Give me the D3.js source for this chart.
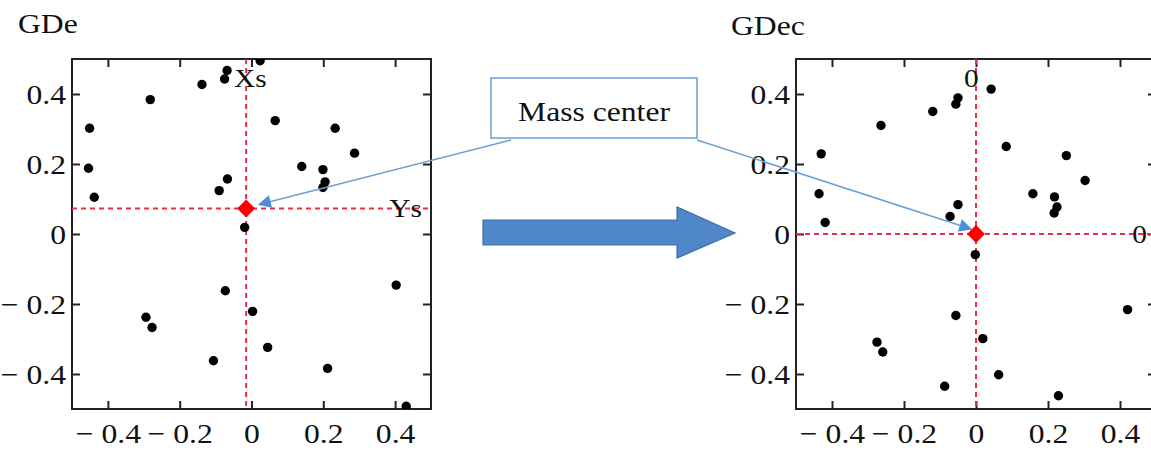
<!DOCTYPE html>
<html>
<head>
<meta charset="utf-8">
<script src="https://cdn.jsdelivr.net/npm/d3@7/dist/d3.min.js"></script>
<style>
  html, body { margin: 0; padding: 0; background: #fff; }
  svg { display: block; }
  text { font-family: "Liberation Serif", "Times New Roman", serif; fill: #111; }
</style>
</head>
<body>
<svg id="chart" width="1151" height="450"></svg>
<script>
// ---------------- data ----------------
const tickValues = [-0.4, -0.2, 0, 0.2, 0.4];
const panelTitles = ["GDe", "GDec"];
const calloutText = "Mass center";

// GDe: original points
const leftX = [-0.451, -0.454, -0.438, -0.282, -0.138, -0.068, -0.075, 0.024, 0.066, 0.233,
               0.287, 0.140, 0.199, 0.205, 0.199, -0.067, -0.090, -0.019, -0.073, 0.003,
               -0.294, -0.277, -0.106, 0.045, 0.212, 0.403, 0.431];
const leftY = [0.302, 0.188, 0.105, 0.384, 0.427, 0.467, 0.443, 0.495, 0.324, 0.302,
               0.231, 0.193, 0.184, 0.149, 0.133, 0.157, 0.124, 0.019, -0.162, -0.221,
               -0.238, -0.267, -0.362, -0.324, -0.384, -0.146, -0.492];
const leftCenter = [-0.015, 0.073];
const leftCenterLabels = ["Xs", "Ys"];

// GDec: centred points
const rightX = [-0.430, -0.436, -0.419, -0.264, -0.120, -0.050, -0.056, 0.042, 0.084, 0.251,
                0.303, 0.158, 0.218, 0.225, 0.217, -0.050, -0.072, -0.002, -0.056, 0.019,
                -0.275, -0.259, -0.087, 0.063, 0.229, 0.421];
const rightY = [0.229, 0.115, 0.033, 0.310, 0.350, 0.389, 0.371, 0.414, 0.250, 0.224,
                0.153, 0.115, 0.106, 0.077, 0.060, 0.084, 0.050, -0.059, -0.233, -0.299,
                -0.309, -0.337, -0.435, -0.402, -0.462, -0.216];
const rightCenter = [0, 0];
const rightCenterLabels = ["0", "0"];

// ---------------- drawing ----------------
const svg = d3.select("#chart");
const SX = 1.13; // horizontal stretch of text in reference
const FS = 28;

const defs = svg.append("defs");
defs.append("marker")
  .attr("id", "bluehead")
  .attr("viewBox", "0 0 10 10")
  .attr("refX", 9).attr("refY", 5)
  .attr("markerWidth", 14).attr("markerHeight", 13)
  .attr("markerUnits", "userSpaceOnUse")
  .attr("orient", "auto")
  .append("path")
  .attr("d", "M0,0 L10,5 L0,10 Z")
  .attr("fill", "#4d8fd6");

const fmt = d => d === 0 ? "0" : (d < 0 ? "\u2212 " + d3.format(".1f")(Math.abs(d)) : d3.format(".1f")(d));

function panel(id, xRange, xs, ys, center, centerLabels, title, titlePos, clipRight) {
  const x = d3.scaleLinear().domain([-0.5, 0.5]).range(xRange);
  const y = d3.scaleLinear().domain([-0.5, 0.5]).range([409, 59]);
  const g = svg.append("g");

  defs.append("clipPath").attr("id", "clip" + id)
    .append("rect")
    .attr("x", x(-0.5)).attr("y", y(0.5))
    .attr("width", Math.min(x(0.5), clipRight) - x(-0.5))
    .attr("height", y(-0.5) - y(0.5));

  // title
  g.append("text")
    .attr("transform", `translate(${titlePos[0]},${titlePos[1]}) scale(${SX},1)`)
    .attr("font-size", FS)
    .text(title);

  // axes (inward ticks on all four sides)
  const styleAxis = sel => {
    sel.select(".domain").remove();
    sel.selectAll(".tick line").attr("stroke", "#222").attr("stroke-width", 2);
  };
  g.append("g").attr("transform", `translate(0,${y(-0.5)})`)
    .call(d3.axisBottom(x).tickValues(tickValues).tickSize(-8).tickFormat(fmt))
    .call(styleAxis)
    .call(s => s.selectAll(".tick text")
      .attr("font-size", FS).attr("font-family", null).attr("fill", "#111")
      .attr("y", 0).attr("dy", 0)
      .attr("transform", `translate(0,34) scale(${SX},1)`));
  g.append("g").attr("transform", `translate(0,${y(0.5)})`)
    .call(d3.axisTop(x).tickValues(tickValues).tickSize(-8).tickFormat(""))
    .call(styleAxis);
  g.append("g").attr("transform", `translate(${x(-0.5)},0)`)
    .call(d3.axisLeft(y).tickValues(tickValues).tickSize(-8).tickFormat(fmt))
    .call(styleAxis)
    .call(s => s.selectAll(".tick text")
      .attr("font-size", FS).attr("font-family", null).attr("fill", "#111")
      .attr("x", 0).attr("dy", "0.34em")
      .attr("transform", `translate(-6,0) scale(${SX},1)`));
  g.append("g").attr("transform", `translate(${x(0.5)},0)`)
    .call(d3.axisRight(y).tickValues(tickValues).tickSize(-8).tickFormat(""))
    .call(styleAxis);

  // frame
  g.append("rect")
    .attr("x", x(-0.5)).attr("y", y(0.5))
    .attr("width", x(0.5) - x(-0.5)).attr("height", y(-0.5) - y(0.5))
    .attr("fill", "none").attr("stroke", "#222").attr("stroke-width", 2);

  const inner = g.append("g").attr("clip-path", `url(#clip${id})`);

  // dashed center lines
  inner.append("line")
    .attr("x1", x(center[0])).attr("x2", x(center[0]))
    .attr("y1", y(0.5)).attr("y2", y(-0.5))
    .attr("stroke", "#ea2d45").attr("stroke-width", 2).attr("stroke-dasharray", "5,4");
  inner.append("line")
    .attr("x1", x(-0.5)).attr("x2", x(0.5))
    .attr("y1", y(center[1])).attr("y2", y(center[1]))
    .attr("stroke", "#ea2d45").attr("stroke-width", 2).attr("stroke-dasharray", "5,4");

  // center labels
  inner.append("text")
    .attr("transform", `translate(${x(center[0]) - 12},${y(0.5) + 28}) scale(${SX},1)`)
    .attr("font-size", 26)
    .text(centerLabels[0]);
  inner.append("text")
    .attr("transform", `translate(${x(0.5) - 9},${y(center[1]) + 9}) scale(${SX},1)`)
    .attr("font-size", 26).attr("text-anchor", "end")
    .text(centerLabels[1]);

  // points
  inner.selectAll("circle.pt")
    .data(d3.range(xs.length))
    .join("circle")
    .attr("class", "pt")
    .attr("cx", i => x(xs[i])).attr("cy", i => y(ys[i]))
    .attr("r", 4.7).attr("fill", "#000");

  // red diamond
  inner.append("path")
    .attr("d", d3.symbol(d3.symbolSquare, 160)())
    .attr("transform", `translate(${x(center[0])},${y(center[1])}) rotate(45)`)
    .attr("fill", "#ff0000");

  return { x, y };
}

const L = panel("L", [72, 431], leftX, leftY, leftCenter, leftCenterLabels, panelTitles[0], [18, 33], 2000);
const R = panel("R", [796, 1156], rightX, rightY, rightCenter, rightCenterLabels, panelTitles[1], [731, 35], 1151);

// big transition arrow
svg.append("path")
  .attr("d", "M483,220 L677,220 L677,207 L735,233 L677,258 L677,245 L483,245 Z")
  .attr("fill", "#4f87c8").attr("stroke", "#3c6fa9").attr("stroke-width", 1.2);

// callout box
svg.append("rect")
  .attr("x", 491).attr("y", 78).attr("width", 206).attr("height", 60)
  .attr("fill", "#fff").attr("stroke", "#6a9fd4").attr("stroke-width", 1.5);
svg.append("text")
  .attr("transform", `translate(594,121) scale(${SX},1)`)
  .attr("text-anchor", "middle").attr("font-size", FS)
  .text(calloutText);

// callout arrows
svg.append("line")
  .attr("x1", 511).attr("y1", 140)
  .attr("x2", L.x(leftCenter[0]) + 13).attr("y2", L.y(leftCenter[1]) - 4)
  .attr("stroke", "#6a9fd4").attr("stroke-width", 1.5)
  .attr("marker-end", "url(#bluehead)");
svg.append("line")
  .attr("x1", 697).attr("y1", 140)
  .attr("x2", R.x(rightCenter[0]) - 5).attr("y2", R.y(rightCenter[1]) - 5)
  .attr("stroke", "#6a9fd4").attr("stroke-width", 1.5)
  .attr("marker-end", "url(#bluehead)");
</script>
</body>
</html>
